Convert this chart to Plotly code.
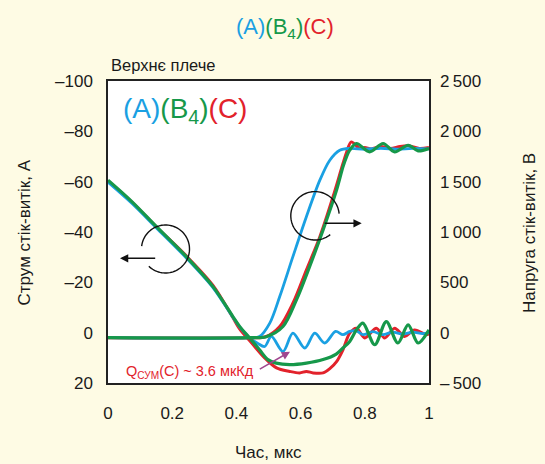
import numpy as np
import plotly.graph_objects as go

# ---- drain-source current, A (left axis, reversed) ----
t_cur_a = [0, 0.075, 0.151, 0.244, 0.327, 0.389, 0.41, 0.441, 0.457, 0.466, 0.488, 0.509, 0.545,
           0.576, 0.613, 0.644, 0.675, 0.709, 0.732, 0.753, 0.774, 0.794, 0.825, 0.856, 0.887,
           0.918, 0.949, 0.980, 1.0]
i_a = [-59.8, -51.3, -41.6, -29.7, -17.9, -6.1, -2.3, 2.0, 3.5, 4.2, 5.5, 1.5, 7.5,
       0.2, 6.1, 0.2, 4.1, -0.5, 0.8, -0.5, -0.7, 0.8, -0.4, 0.8, -0.2,
       0.6, -0.2, 0.4, 0.0]

t_cur_b4 = [0, 0.075, 0.151, 0.244, 0.327, 0.389, 0.41, 0.441, 0.472, 0.498, 0.524, 0.566, 0.618,
            0.670, 0.711, 0.732, 0.753, 0.774, 0.794, 0.831, 0.867, 0.903, 0.935, 0.966, 1.0]
i_b4 = [-60.6, -52.0, -42.1, -30.2, -18.3, -6.4, -2.5, 2.1, 6.8, 10.7, 12.1, 12.7, 12.1,
        10.7, 8.5, 6.1, 3.5, -1.1, -3.8, 4.8, -4.4, 4.1, -3.1, 4.1, -1.1]

t_cur_c = [0, 0.075, 0.151, 0.244, 0.327, 0.389, 0.41, 0.447, 0.488, 0.525, 0.566, 0.597, 0.618,
           0.639, 0.670, 0.691, 0.712, 0.732, 0.753, 0.774, 0.800, 0.836, 0.862, 0.893, 0.924,
           0.955, 0.992, 1.0]
i_c = [-60.3, -51.8, -42.0, -30.5, -18.8, -6.0, -1.5, 4.0, 10.0, 14.0, 15.4, 16.0, 15.4,
       16.0, 16.0, 14.3, 11.5, 6.8, 0.2, -1.8, 2.1, -1.8, 2.1, -1.8, 1.5,
       -1.1, 0.8, 0.5]

# ---- drain-source voltage, V (right axis) ----
t_v_a = [0, 0.441, 0.472, 0.504, 0.535, 0.576, 0.618, 0.660, 0.691, 0.722, 0.753, 0.80,
         0.85, 0.90, 0.95, 1.0]
v_a = [-50, -50, -38, 95, 359, 755, 1152, 1515, 1713, 1812, 1830, 1822,
       1832, 1822, 1830, 1825]

t_v_b4 = [0, 0.441, 0.493, 0.545, 0.587, 0.628, 0.670, 0.712, 0.732, 0.743, 0.753, 0.774,
          0.815, 0.857, 0.893, 0.935, 0.966, 1.0]
v_b4 = [-50, -50, -40, 61, 326, 656, 1020, 1416, 1647, 1746, 1813, 1879,
        1796, 1879, 1796, 1862, 1806, 1830]

t_v_c = [0, 0.441, 0.493, 0.535, 0.576, 0.618, 0.660, 0.701, 0.732, 0.743, 0.758, 0.784,
         0.80, 0.82, 0.85, 0.88, 0.91, 0.94, 0.97, 1.0]
v_c = [-50, -50, -38, 61, 293, 623, 953, 1350, 1681, 1790, 1895, 1830,
       1840, 1825, 1850, 1830, 1850, 1855, 1830, 1840]

# ---- axes ----
x_ticks = [0, 0.2, 0.4, 0.6, 0.8, 1]
x_tick_text = ["0", "0.2", "0.4", "0.6", "0.8", "1"]
i_ticks = [-100, -80, -60, -40, -20, 0, 20]
i_tick_text = ["\u2013100", "\u201380", "\u201360", "\u201340", "\u201320", "0", "20"]
v_ticks = [-500, 0, 500, 1000, 1500, 2000, 2500]
v_tick_text = ["\u2013\u2009500", "0", "500", "1\u2009000", "1\u2009500", "2\u2009000", "2\u2009500"]

BLUE = "#1AA0E2"
GREEN = "#16984A"
RED = "#E2222B"
PURPLE = "#A0468F"
BG = "#FEFBE4"
FONT = "Liberation Sans, Arial, sans-serif"

W, H = 545, 464
L, R, T, B = 108, 116, 81, 81
PW, PH = W - L - R, H - T - B


def px_to_paper(px, py):
    return (px - L) / PW, (H - B - py) / PH


fig = go.Figure()

def add(t, v, color, width, axis):
    fig.add_trace(go.Scatter(x=t, y=v, mode="lines", yaxis=axis,
                             line=dict(color=color, width=width, shape="spline", smoothing=0.9),
                             showlegend=False, hoverinfo="skip"))

# voltage traces
add(t_v_c, v_c, RED, 3, "y2")
add(t_v_a, v_a, BLUE, 2.8, "y2")
add(t_v_b4, v_b4, GREEN, 3.2, "y2")
# current traces
add(t_cur_c, i_c, RED, 3, "y")
add(t_cur_a, i_a, BLUE, 2.8, "y")
add(t_cur_b4, i_b4, GREEN, 3.2, "y")

# open circles showing which axis each curve group belongs to
shapes = []
def arc(cx, cy, r, a0, a1):
    ang = np.radians(np.linspace(a0, a1, 80))
    pts = [px_to_paper(cx + r * np.cos(a), cy - r * np.sin(a)) for a in ang]
    path = "M " + " L ".join(f"{x:.4f},{y:.4f}" for x, y in pts)
    shapes.append(dict(type="path", xref="paper", yref="paper", path=path,
                       line=dict(color="#111", width=1.4)))

arc(165.5, 249.0, 24.0, -134, 173)
arc(315.0, 215.8, 24.2, 5, 309)

annotations = []
def arrow(hx, hy, tx, ty, color):
    x, y = px_to_paper(hx, hy)
    annotations.append(dict(x=x, y=y, xref="paper", yref="paper", text="",
                            showarrow=True, ax=tx - hx, ay=ty - hy,
                            arrowhead=2, arrowsize=1.1, arrowwidth=1.5, arrowcolor=color))

arrow(120.0, 258.3, 156.7, 258.3, "#111")
arrow(361.7, 223.3, 323.3, 223.3, "#111")
arrow(290.0, 351.7, 258.3, 370.0, PURPLE)

def label(px, py, text, size, color="#1a1a1a", xanchor="center", angle=0):
    x, y = px_to_paper(px, py)
    annotations.append(dict(x=x, y=y, xref="paper", yref="paper", text=text,
                            showarrow=False, xanchor=xanchor, yanchor="middle",
                            textangle=angle, font=dict(family=FONT, size=size, color=color)))

series_title = (f'<span style="color:{BLUE}">(A)</span>'
                f'<span style="color:{GREEN}">(B<sub>4</sub>)</span>'
                f'<span style="color:{RED}">(C)</span>')
label(285, 28, series_title, 22)
label(120.5, 110, series_title, 28, xanchor="left")
label(109, 65, "Верхнє плече", 16.5, xanchor="left")
label(23.5, 233, "Струм стік-витік, А", 17, angle=-90)
label(529, 233, "Напруга стік-витік, В", 17, angle=-90)
label(268, 452, "Час, мкс", 17)
label(124, 371.5, "Q<sub>СУМ</sub>(C) ~ 3.6 мкКд", 14.5, color=RED, xanchor="left")

fig.update_layout(
    width=W, height=H,
    margin=dict(l=L, r=R, t=T, b=B),
    paper_bgcolor=BG, plot_bgcolor="white",
    font=dict(family=FONT, size=17, color="#1a1a1a"),
    shapes=shapes, annotations=annotations,
    xaxis=dict(range=[0, 1], tickvals=x_ticks, ticktext=x_tick_text,
               showgrid=False, zeroline=False, ticks="",
               showline=True, mirror=True, linecolor="#222", linewidth=1.5,
               ticklabelstandoff=14),
    yaxis=dict(range=[20, -100], tickvals=i_ticks, ticktext=i_tick_text,
               showgrid=False, zeroline=False, ticks="",
               showline=True, mirror=True, linecolor="#222", linewidth=1.5,
               ticklabelstandoff=10),
    yaxis2=dict(range=[-500, 2500], tickvals=v_ticks, ticktext=v_tick_text,
                overlaying="y", side="right", showgrid=False, zeroline=False,
                ticks="", showline=False, ticklabelstandoff=10),
)

fig.write_html("out.html")
